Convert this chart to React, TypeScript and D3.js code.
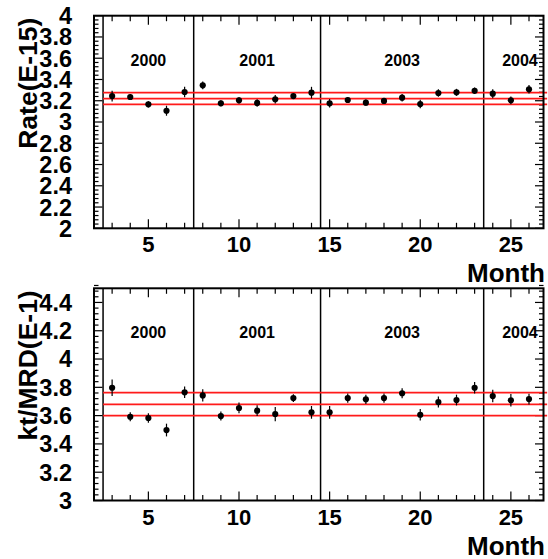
import React from "react";
import * as d3 from "d3";

const months = [3, 4, 5, 6, 7, 8, 9, 10, 11, 12, 13, 14, 15, 16, 17, 18, 19, 20, 21, 22, 23, 24, 25, 26];
const rateValues = [3.244, 3.235, 3.166, 3.106, 3.282, 3.345, 3.176, 3.204, 3.179, 3.214, 3.244, 3.276, 3.176, 3.207, 3.182, 3.198, 3.229, 3.169, 3.273, 3.279, 3.294, 3.266, 3.204, 3.308];
const rateErrors = [0.05, 0.027, 0.03, 0.047, 0.05, 0.036, 0.028, 0.03, 0.036, 0.04, 0.025, 0.055, 0.04, 0.025, 0.03, 0.025, 0.035, 0.04, 0.035, 0.033, 0.03, 0.042, 0.036, 0.04];
const ktValues = [3.797, 3.592, 3.583, 3.498, 3.765, 3.743, 3.597, 3.654, 3.635, 3.611, 3.724, 3.623, 3.623, 3.724, 3.715, 3.724, 3.758, 3.606, 3.696, 3.71, 3.797, 3.738, 3.708, 3.717];
const ktErrors = [0.059, 0.032, 0.033, 0.045, 0.041, 0.044, 0.032, 0.038, 0.038, 0.05, 0.027, 0.045, 0.045, 0.033, 0.032, 0.033, 0.035, 0.041, 0.039, 0.038, 0.041, 0.044, 0.044, 0.038];
const rateBand = [3.166, 3.22, 3.276];
const ktBand = [3.6, 3.68, 3.762];
const yearLabels = ["2000", "2001", "2003", "2004"];
const yearPositions = [5, 11, 19, 25.5];
const separators = [2.5, 7.5, 14.5, 23.5];
const xDomain = [2, 26.8];
const rateDomain = [2, 4];
const ktDomain = [3, 4.5];
const xTickLabels = [5, 10, 15, 20, 25];
const rateTickLabels = ["2", "2.2", "2.4", "2.6", "2.8", "3", "3.2", "3.4", "3.6", "3.8", "4"];
const ktTickLabels = ["3", "3.2", "3.4", "3.6", "3.8", "4", "4.2", "4.4"];

const FONT = "'Liberation Sans', Arial, Helvetica, sans-serif";
const LEFT = 94;
const RIGHT = 543.5;

type PanelProps = {
  top: number;
  bottom: number;
  yDomain: number[];
  values: number[];
  errors: number[];
  band: number[];
  yLabels: string[];
  title: string;
};

function Panel({ top, bottom, yDomain, values, errors, band, yLabels, title }: PanelProps) {
  const x = d3.scaleLinear().domain(xDomain).range([LEFT, RIGHT]);
  const y = d3.scaleLinear().domain(yDomain).range([bottom, top]);
  const minorY = d3.range(Math.round((yDomain[1] - yDomain[0]) / 0.04) + 1).map((i) => yDomain[0] + i * 0.04);
  const minorX = d3.range(Math.ceil(xDomain[0]), Math.floor(xDomain[1]) + 1);
  const majorLen = 8.5;
  const minorLen = 4.5;
  const isMajorY = (v: number) => Math.abs(v * 5 - Math.round(v * 5)) < 1e-6;
  return (
    <g>
      {/* y ticks left & right */}
      {minorY.map((v, i) => {
        const len = isMajorY(v) ? majorLen : minorLen;
        return (
          <g key={"yt" + i}>
            <line x1={LEFT} x2={LEFT + len} y1={y(v)} y2={y(v)} stroke="#000" strokeWidth={1.2} />
            <line x1={RIGHT} x2={RIGHT - len} y1={y(v)} y2={y(v)} stroke="#000" strokeWidth={1.2} />
          </g>
        );
      })}
      {/* x ticks top & bottom */}
      {minorX.map((m) => {
        const len = m % 5 === 0 ? 9 : 5.5;
        return (
          <g key={"xt" + m}>
            <line x1={x(m)} x2={x(m)} y1={top} y2={top + len} stroke="#000" strokeWidth={1.2} />
            <line x1={x(m)} x2={x(m)} y1={bottom} y2={bottom - len} stroke="#000" strokeWidth={1.2} />
          </g>
        );
      })}
      {/* separators */}
      {separators.map((s, i) => (
        <line key={"sep" + i} x1={x(s)} x2={x(s)} y1={top} y2={bottom} stroke="#000" strokeWidth={1.5} />
      ))}
      {/* red band lines (unclipped) */}
      {band.map((b, i) => (
        <line key={"band" + i} x1={x(2.5)} x2={x(27)} y1={y(b)} y2={y(b)} stroke="#ff1a1a" strokeWidth={1.8} />
      ))}
      {/* frame */}
      <rect x={LEFT} y={top} width={RIGHT - LEFT} height={bottom - top} fill="none" stroke="#000" strokeWidth={2} />
      {/* data */}
      {months.map((m, i) => (
        <g key={"pt" + m}>
          <line x1={x(m)} x2={x(m)} y1={y(values[i] - errors[i])} y2={y(values[i] + errors[i])} stroke="#000" strokeWidth={1.2} />
          <circle cx={x(m)} cy={y(values[i])} r={3.1} fill="#000" />
        </g>
      ))}
      {/* year labels */}
      {yearLabels.map((t, i) => (
        <text key={"yr" + t} x={x(yearPositions[i])} y={top + 50} textAnchor="middle" fontFamily={FONT} fontWeight="bold" fontSize={16}>
          {t}
        </text>
      ))}
      {/* x tick labels */}
      {xTickLabels.map((v) => (
        <text key={"xl" + v} x={x(v)} y={bottom + 24} textAnchor="middle" fontFamily={FONT} fontWeight="bold" fontSize={22}>
          {v}
        </text>
      ))}
      {/* y tick labels */}
      {yLabels.map((t) => (
        <text key={"yl" + t} x={72} y={y(+t)} dy="0.36em" textAnchor="end" fontFamily={FONT} fontWeight="bold" fontSize={23.5}>
          {t}
        </text>
      ))}
      {/* y title */}
      <text transform={`translate(37, ${top + 2}) rotate(-90)`} textAnchor="end" fontFamily={FONT} fontWeight="bold" fontSize={26.5}>
        {title}
      </text>
      {/* x title */}
      <text x={545} y={bottom + 54} textAnchor="end" fontFamily={FONT} fontWeight="bold" fontSize={26}>
        Month
      </text>
    </g>
  );
}

export default function App() {
  return (
    <svg width={548} height={559} style={{ position: "absolute", left: 0, top: 0, background: "#fff" }}>
      <rect width={548} height={559} fill="#fff" />
      <Panel top={15.7} bottom={228.3} yDomain={rateDomain} values={rateValues} errors={rateErrors} band={rateBand} yLabels={rateTickLabels} title="Rate(E-15)" />
      <Panel top={288.3} bottom={500.5} yDomain={ktDomain} values={ktValues} errors={ktErrors} band={ktBand} yLabels={ktTickLabels} title="kt/MRD(E-1)" />
    </svg>
  );
}
